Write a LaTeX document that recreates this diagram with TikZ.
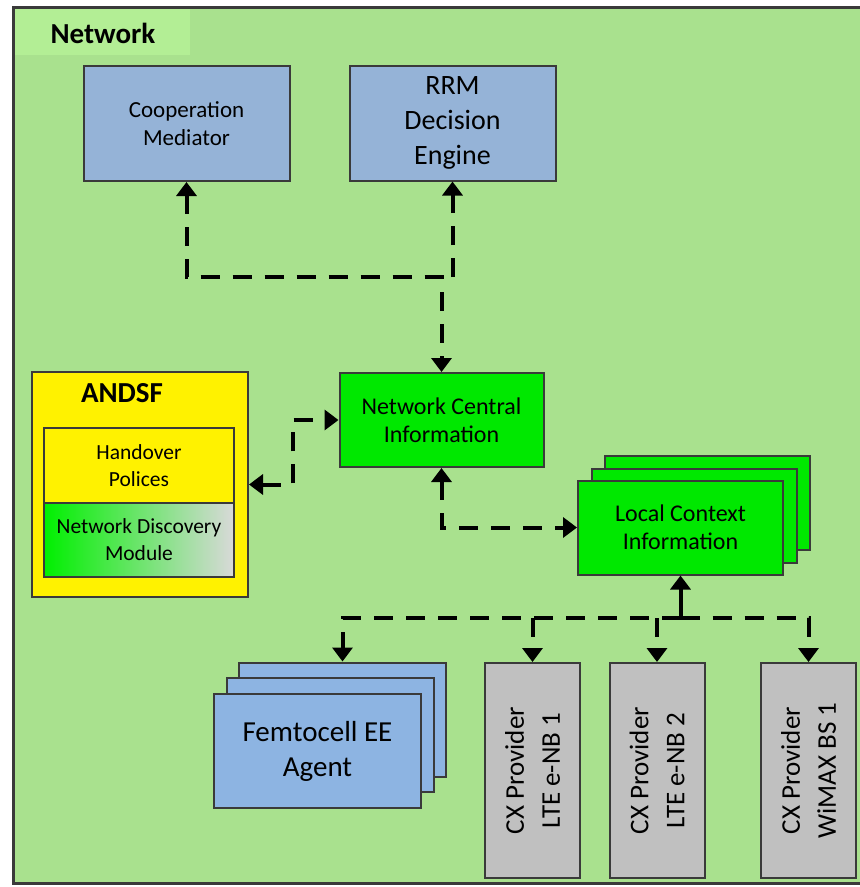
\documentclass[tikz,border=0pt]{standalone}
\usepackage{fontspec}
\setmainfont{Carlito}
\usetikzlibrary{shapes,arrows.meta}

\definecolor{netgreen}{HTML}{A9E18E}
\definecolor{tabgreen}{HTML}{B3EE95}
\definecolor{boxline}{HTML}{3A3A3A}
\definecolor{greyblue}{HTML}{95B3D7}
\definecolor{femtoblue}{HTML}{8DB4E2}
\definecolor{brightgreen}{HTML}{00E800}
\definecolor{ndmgreen}{HTML}{00F000}
\definecolor{ndmgray}{HTML}{D9D9D9}
\definecolor{cxgray}{HTML}{C0C0C0}

\tikzset{%
	block/.style    = {draw=boxline, line width=2pt, rectangle, align=center,
		inner sep=2pt},
	mgmt/.style     = {block, fill=greyblue, minimum width=206pt, minimum height=115pt}, % top boxes
	info/.style     = {block, fill=brightgreen, minimum width=204pt, minimum height=94pt,
		font=\fontsize{24}{28}\selectfont}, % green boxes
	femto/.style    = {block, fill=femtoblue, minimum width=207pt, minimum height=114pt},
	cx/.style       = {block, fill=cxgray, minimum width=95pt, minimum height=215pt},
	cxtext/.style   = {rotate=90, align=center, font=\fontsize{27}{36}\selectfont},
	policy/.style   = {block, minimum width=190pt, minimum height=75pt,
		font=\fontsize{21.5}{27}\selectfont},
	title/.style    = {font=\fontsize{29}{32}\selectfont\bfseries},
	link/.style     = {line width=4pt, dash pattern=on 19pt off 13pt,
		>={Triangle[width=20pt,length=14pt]}}, % dashed connector
	bus/.style      = {coordinate} % junction
}

\begin{document}
\begin{tikzpicture}[x=1pt,y=-1pt]
	\useasboundingbox (0,0) rectangle (860,887);
	\fill[white] (0,0) rectangle (860,887);
	\draw[fill=netgreen, draw=boxline, line width=3pt] (13,7) rectangle (880,883);
	\fill[tabgreen] (15,9) rectangle (190,55);
	\node[title] (nettitle) at (103,33) {Network};

	% top row
	\node[mgmt, font=\fontsize{23}{28}\selectfont] (coop) at (186.5,123.5) {Cooperation\\Mediator};
	\node[mgmt, font=\fontsize{28}{35}\selectfont] (rrm) at (452.5,123) {RRM\\Decision\\Engine};

	% central information
	\node[info] (nci) at (441.5,420) {Network Central\\Information};
	\node[info, minimum width=205pt] (localback) at (707.5,502.5) {};
	\node[info, minimum width=205pt] (localmid) at (694.5,515.5) {};
	\node[info, minimum width=205pt] (local) at (680.5,527.5) {Local Context\\Information};

	% ANDSF
	\node[block, fill=yellow, minimum width=216pt, minimum height=225pt] (andsf) at (140,484.5) {};
	\node[title] (andsftitle) at (122,393) {ANDSF};
	\node[policy, fill=yellow] (handover) at (139,465.5) {Handover\\Polices};
	\node[policy, left color=ndmgreen, middle color=ndmgray, right color=ndmgray,
		minimum height=74pt] (ndm) at (139,540) {Network Discovery\\Module};

	% access side
	\node[femto] (femtoback) at (342.5,719.5) {};
	\node[femto] (femtomid) at (330,734.5) {};
	\node[femto, font=\fontsize{29}{35}\selectfont] (femtoagent) at (317.5,751) {Femtocell EE\\Agent};
	\node[cx] (cxa) at (532.5,770.5) {};
	\node[cx] (cxb) at (657,770.5) {};
	\node[cx] (cxc) at (808.5,770.5) {};
	\node[cxtext] (cxatext) at (cxa) {CX Provider\\LTE e-NB 1};
	\node[cxtext] (cxbtext) at (cxb) {CX Provider\\LTE e-NB 2};
	\node[cxtext] (cxctext) at (cxc) {CX Provider\\WiMAX BS 1};

	\node[bus] (upper) at (441.5,277) {};
	\node[bus] (left) at (293,484.5) {};
	\node[bus] (lower) at (680.5,618) {};

	\draw[link,<->] (coop.south) |- (upper) -- (nci.north);
	\draw[link,->] (rrm.south |- upper) -- (rrm.south);
	\draw[link,<->] (andsf.east) -- (left) |- (nci.west);
	\draw[link,<->] (nci.south) |- (local.west);
	\draw[link,solid,->] (lower) -- (local.south);
	\draw[link,->] (lower) -| (femtoback.north);
	\draw[link,->] (lower) -| (cxc.north);
	\draw[link,->] (cxa.north |- lower) -- (cxa.north);
	\draw[link,->] (cxb.north |- lower) -- (cxb.north);
\end{tikzpicture}
\end{document}
